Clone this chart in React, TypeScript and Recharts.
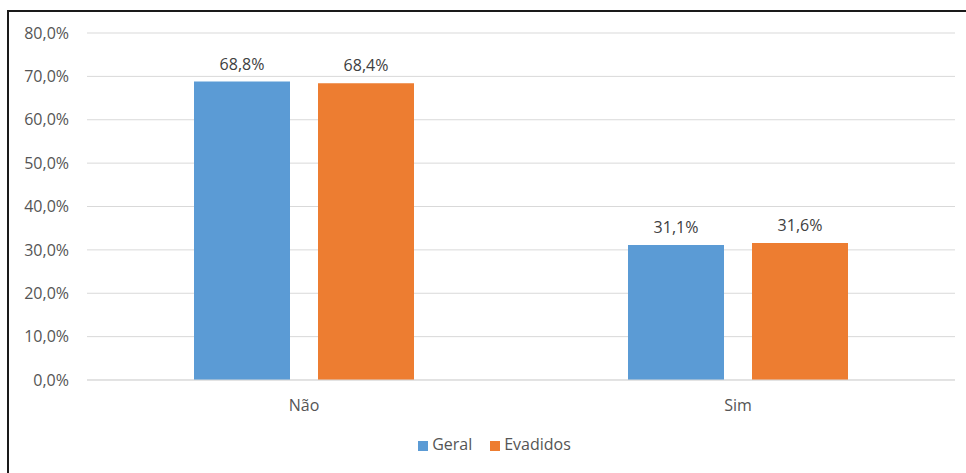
import { BarChart, Bar, XAxis, YAxis, CartesianGrid, Legend, LabelList } from 'recharts'

const categories = ['Não', 'Sim']
const geral = [68.8, 31.1]
const evadidos = [68.4, 31.6]
const yTicks = [0, 10, 20, 30, 40, 50, 60, 70, 80]
const seriesOrder = ['geral', 'evadidos']

const data = categories.map((cat, i) => ({ cat, geral: geral[i], evadidos: evadidos[i] }))

const pct = (v: number) => `${v.toFixed(1).replace('.', ',')}%`

const FONT = '"Open Sans", "Segoe UI", sans-serif'
const TEXT = '#555555'

export default function App() {
  return (
    <div style={{ position: 'absolute', top: 0, left: 0, width: 966, height: 473, background: '#fff', overflow: 'hidden' }}>
      <div
        style={{
          position: 'absolute', left: 7, top: 10, width: 980, height: 480,
          borderTop: '2px solid #1a1a1a', borderLeft: '2px solid #1a1a1a',
        }}
      />
      <BarChart
        width={966}
        height={473}
        data={data}
        margin={{ top: 33, right: 11, left: 0, bottom: 18 }}
        barCategoryGap={107}
        barGap={28}
        style={{ fontFamily: FONT }}
      >
        <CartesianGrid stroke="#d9d9d9" vertical={false} />
        <XAxis
          dataKey="cat"
          axisLine={{ stroke: '#d9d9d9' }}
          tickLine={false}
          height={53}
          tick={{ fontSize: 16, fill: TEXT, fontFamily: FONT }}
          dy={12}
        />
        <YAxis
          width={87}
          domain={[0, 80]}
          ticks={yTicks}
          axisLine={false}
          tickLine={false}
          tickFormatter={pct}
          tick={{ fontSize: 16, fill: TEXT, fontFamily: FONT }}
          dx={-10}
        />
        <Legend
          iconType="square"
          iconSize={10}
          itemSorter={(item: any) => seriesOrder.indexOf(item.dataKey)}
          wrapperStyle={{ left: 26, fontSize: 16, fontFamily: FONT, color: TEXT }}
          formatter={(value) => <span style={{ color: TEXT, paddingRight: 8 }}>{value}</span>}
        />
        <Bar dataKey="geral" name="Geral" fill="#5B9BD5" isAnimationActive={false}>
          <LabelList dataKey="geral" position="top" offset={12} formatter={(v: any) => pct(Number(v))}
            style={{ fontSize: 16, fill: '#404040', fontFamily: FONT }} />
        </Bar>
        <Bar dataKey="evadidos" name="Evadidos" fill="#ED7D31" isAnimationActive={false}>
          <LabelList dataKey="evadidos" position="top" offset={12} formatter={(v: any) => pct(Number(v))}
            style={{ fontSize: 16, fill: '#404040', fontFamily: FONT }} />
        </Bar>
      </BarChart>
    </div>
  )
}
